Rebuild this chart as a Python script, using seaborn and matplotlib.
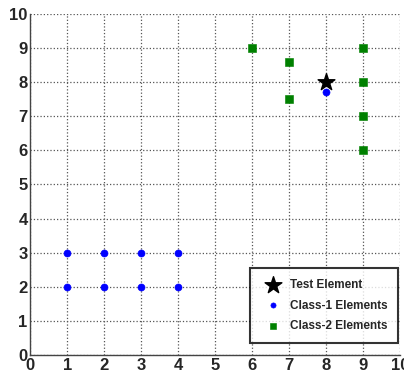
import numpy as np
import pandas as pd
import matplotlib
matplotlib.use('Agg')
import matplotlib.pyplot as plt
import seaborn as sns

# 데이터
class1_x = [1, 2, 3, 4, 1, 2, 3, 4, 8]
class1_y = [2, 2, 2, 2, 3, 3, 3, 3, 7.7]
class2_x = [6, 7, 7, 9, 9, 9, 9]
class2_y = [9, 8.6, 7.5, 9, 8, 7, 6]
test_x = [8]
test_y = [8]
ticks = list(range(0, 11))

sns.set_style('white')
plt.rcParams['font.family'] = ['Liberation Sans', 'DejaVu Sans']

fig = plt.figure(figsize=(4.04, 3.76), dpi=100)
ax = fig.add_axes([0.075, 0.056, 0.915, 0.907])

sns.scatterplot(x=test_x, y=test_y, marker='*', s=160, color='black',
                edgecolor='black', label='Test Element', ax=ax, zorder=5)
sns.scatterplot(x=class1_x, y=class1_y, marker='o', s=26, color='blue',
                edgecolor='blue', label='Class-1 Elements', ax=ax, zorder=4)
sns.scatterplot(x=class2_x, y=class2_y, marker='s', s=28, color='green',
                edgecolor='green', label='Class-2 Elements', ax=ax, zorder=4)

ax.set_xlim(0, 10)
ax.set_ylim(0, 10)
ax.set_xticks(ticks)
ax.set_yticks(ticks)
ax.set_xticklabels([str(t) for t in ticks], fontsize=12, fontweight='bold')
ax.set_yticklabels([str(t) for t in ticks], fontsize=12, fontweight='bold')
ax.tick_params(direction='in', length=4, width=0.8, pad=2)
ax.grid(True, linestyle=':', color='#555555', linewidth=0.9)
for s in ['top', 'right']:
    ax.spines[s].set_visible(False)
for s in ['left', 'bottom']:
    ax.spines[s].set_color('#444444')
    ax.spines[s].set_linewidth(1.0)

leg = ax.legend(loc='lower right', bbox_to_anchor=(0.995, 0.035),
                prop={'weight': 'bold', 'size': 8.5}, frameon=True,
                fancybox=False, borderpad=0.9, handletextpad=0.4,
                labelspacing=0.75, borderaxespad=0, handlelength=2.1)
leg.get_frame().set_edgecolor('black')
leg.get_frame().set_linewidth(1.5)
handles = leg.legend_handles
handles[1].set_sizes([14])
handles[2].set_sizes([14])

fig.savefig('out.png', dpi=100)
